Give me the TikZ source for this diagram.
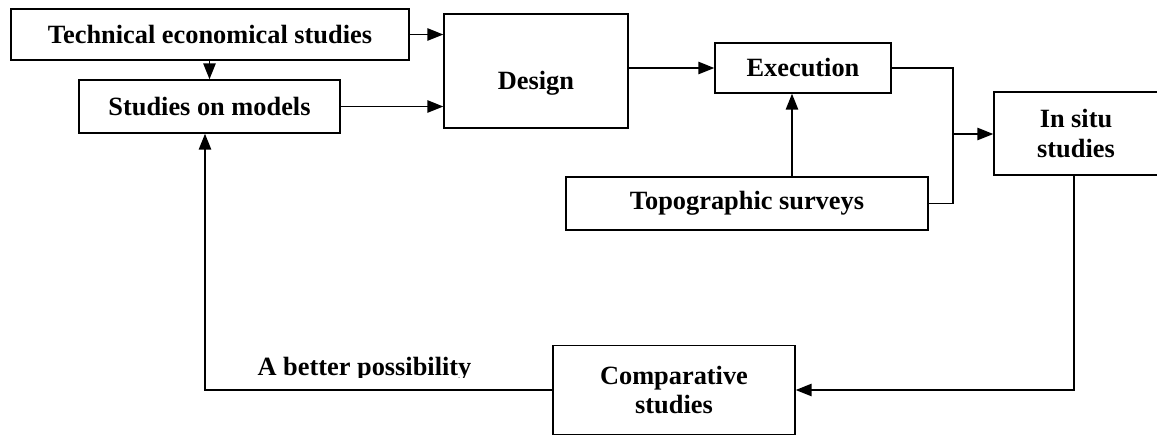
\documentclass[tikz,border=0pt]{standalone}
\usepackage{fontspec}
\setmainfont{Liberation Serif}
\usetikzlibrary{arrows.meta}
\usetikzlibrary{positioning}

\begin{document}
\begin{tikzpicture}[->,>={Triangle[length=9pt,width=7pt]},line width=0.85pt,
			x=0.02cm,y=-0.02cm]
			\tikzstyle{block}=[draw,rectangle,inner sep=2pt,align=center,
			font=\fontsize{15}{17}\selectfont\bfseries]
			\tikzstyle{lbl}=[inner sep=0pt,font=\fontsize{15}{17}\selectfont\bfseries]
			
			\useasboundingbox (0,0) rectangle (1157,434);
			
			\node[block,minimum width=7.96cm,minimum height=1.02cm] (tech)   at (210,34.5)    {Technical economical studies};
			\node[block,minimum width=5.22cm,minimum height=1.06cm] (models) at (209.5,106.5) {Studies on models};
			\node[block,minimum width=3.68cm,minimum height=2.28cm,
			text height=0.75cm,text depth=0pt]                      (design) at (536,71)      {Design};
			\node[block,minimum width=3.52cm,minimum height=1.00cm] (exec)   at (803,68)      {Execution};
			\node[block,minimum width=3.28cm,minimum height=1.66cm] (insitu) at (1076,133.5)  {In situ\\studies};
			\node[block,minimum width=7.24cm,minimum height=1.06cm] (topo)   at (747,203.5)   {Topographic surveys};
			\node[block,minimum width=4.84cm,minimum height=1.78cm] (cmp)    at (674,390)     {Comparative\\studies};
			
			\coordinate (jn) at (953,134);
			
			% feeding the design
			\draw (tech.east) -- (tech.east -| design.west);
			\draw (models.east) -- (models.east -| design.west);
			\draw (tech.south -| models.north) -- (models.north);
			
			% execution and surveys
			\draw (design.east |- exec.west) -- (exec.west);
			\draw ([xshift=-0.22cm]exec.south |- topo.north) -- ([xshift=-0.22cm]exec.south);
			\draw[-] (exec.east) -| (jn) |- (topo.east);
			\draw (jn) -- (jn -| insitu.west);
			
			% loop back
			\draw ([xshift=-0.04cm]insitu.south) |- (cmp.east);
			\draw (cmp.west) -| ([xshift=-0.09cm]models.south);
			
			\begin{scope}
			\clip (240,340) rectangle (500,377);
			\node[lbl,anchor=base] (better) at (364.5,375.5) {A better possibility};
			\end{scope}
\end{tikzpicture}
\end{document}
